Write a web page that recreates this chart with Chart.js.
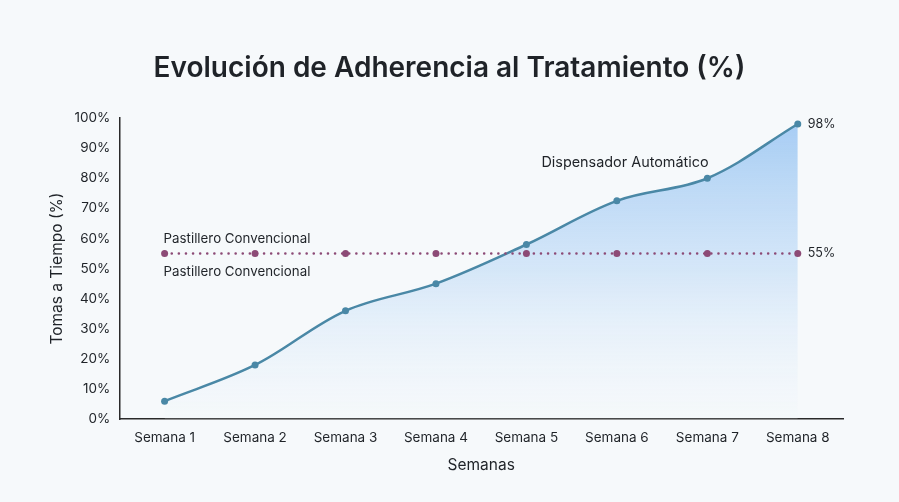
<!DOCTYPE html>
<html>
<head>
<meta charset="utf-8">
<script src="https://cdn.jsdelivr.net/npm/chart.js@4.4.1/dist/chart.umd.min.js"></script>
<style>
  html, body { margin: 0; padding: 0; background: #f6f9fb; }
  #wrap { width: 899px; height: 502px; position: relative; }
</style>
</head>
<body>
<div id="wrap"><canvas id="c"></canvas></div>
<script>
const categories = ['Semana 1','Semana 2','Semana 3','Semana 4','Semana 5','Semana 6','Semana 7','Semana 8'];
const dispensadorValues = [6, 18, 36, 45, 58, 72.5, 80, 98];
const pastilleroValues = [55, 55, 55, 55, 55, 55, 55, 55];
const yTicks = [0, 10, 20, 30, 40, 50, 60, 70, 80, 90, 100];
const seriesNames = ['Dispensador Automático', 'Pastillero Convencional'];
const chartTitle = 'Evolución de Adherencia al Tratamiento (%)';

const FONT = 'Inter, "Noto Sans", sans-serif';
const TXT = '#1f2328';

const labelsPlugin = {
  id: 'labelsPlugin',
  afterDraw(chart) {
    const { ctx, scales: { x, y } } = chart;
    ctx.save();
    ctx.fillStyle = TXT;
    ctx.textBaseline = 'middle';
    // Title centered on canvas
    ctx.textAlign = 'center';
    ctx.font = '600 28px ' + FONT;
    ctx.fillText(chartTitle, chart.width / 2, 68.5);
    // Pastillero labels above and below the dotted line, at first point
    ctx.font = '13.3px ' + FONT;
    const px = x.getPixelForValue(0);
    const py = y.getPixelForValue(pastilleroValues[0]);
    ctx.textAlign = 'left';
    ctx.fillText(seriesNames[1], px - 1, py - 14.5);
    ctx.fillText(seriesNames[1], px - 1, py + 18);
    // Dispensador label
    ctx.font = '14.4px ' + FONT;
    ctx.textAlign = 'center';
    ctx.fillText(seriesNames[0], x.getPixelForValue(5.09), y.getPixelForValue(85.3));
    // End values
    ctx.font = '12.5px ' + FONT;
    ctx.textAlign = 'left';
    const last = categories.length - 1;
    ctx.fillText(dispensadorValues[last] + '%', x.getPixelForValue(last) + 10, y.getPixelForValue(dispensadorValues[last]));
    ctx.fillText(pastilleroValues[last] + '%', x.getPixelForValue(last) + 10, y.getPixelForValue(pastilleroValues[last]));
    ctx.restore();
  }
};

const ctx = document.getElementById('c').getContext('2d');
new Chart(ctx, {
  type: 'line',
  data: {
    labels: categories,
    datasets: [
      {
        label: seriesNames[0],
        data: dispensadorValues,
        order: 1,
        borderColor: '#4a88a6',
        borderWidth: 2.5,
        pointRadius: 3.5,
        pointBackgroundColor: '#4a88a6',
        pointBorderWidth: 0,
        tension: 0.35,
        fill: 'origin',
        backgroundColor: (c) => {
          const area = c.chart.chartArea;
          if (!area) return 'rgba(160,200,240,0.5)';
          const g = c.chart.ctx.createLinearGradient(0, area.top, 0, area.bottom);
          g.addColorStop(0, 'rgba(150,195,242,0.85)');
          g.addColorStop(0.5, 'rgba(190,218,246,0.6)');
          g.addColorStop(1, 'rgba(240,246,252,0.15)');
          return g;
        }
      },
      {
        label: seriesNames[1],
        data: pastilleroValues,
        order: 0,
        borderColor: '#8c4a76',
        borderWidth: 2.5,
        borderDash: [0.1, 7],
        borderCapStyle: 'round',
        pointRadius: 3.5,
        pointBackgroundColor: '#8c4a76',
        pointBorderWidth: 0,
        tension: 0,
        fill: false
      }
    ]
  },
  options: {
    responsive: true,
    maintainAspectRatio: false,
    animation: false,
    layout: { padding: { top: 118, left: 44, right: 56, bottom: 23 } },
    plugins: {
      legend: { display: false },
      tooltip: { enabled: false },
      title: { display: false }
    },
    scales: {
      x: {
        offset: true,
        grid: { display: false },
        border: { display: true, color: '#2a2a2a', width: 1.5 },
        ticks: { color: TXT, font: { family: FONT, size: 13.5 }, padding: 2.5, maxRotation: 0 },
        title: { display: true, text: 'Semanas', color: TXT, font: { family: FONT, size: 15.5 }, padding: { top: 8, bottom: 4 } }
      },
      y: {
        min: 0,
        max: 100,
        afterBuildTicks: (s) => { s.ticks = yTicks.map(v => ({ value: v })); },
        grid: { display: false },
        border: { display: true, color: '#2a2a2a', width: 1.5 },
        ticks: { color: TXT, font: { family: FONT, size: 13.5 }, padding: 1, callback: (v) => v + '%' },
        title: { display: true, text: 'Tomas a Tiempo (%)', color: TXT, font: { family: FONT, size: 15.5 }, padding: { top: 4, bottom: 7 } }
      }
    }
  },
  plugins: [labelsPlugin]
});
</script>
</body>
</html>
